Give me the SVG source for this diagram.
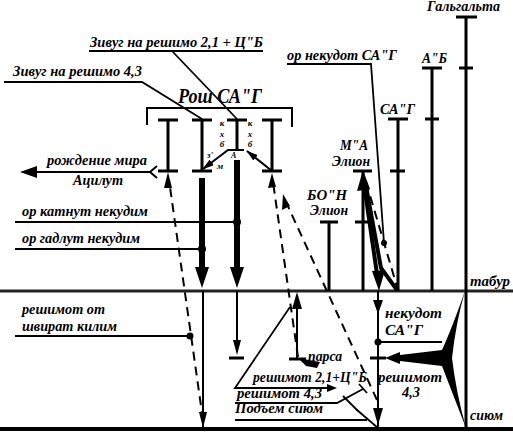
<svg xmlns="http://www.w3.org/2000/svg" width="513" height="434" viewBox="0 0 513 434">
<style>
text{font-family:"Liberation Serif","Times New Roman",serif;font-weight:bold;font-style:italic;fill:#000;font-size:14px}
.s{font-size:9px}
.ln{stroke:#000;stroke-width:2;fill:none}
.v{stroke:#000;stroke-width:3;fill:none}
.thk{stroke:#000;stroke-width:6;fill:none}
.th4{stroke:#000;stroke-width:4;fill:none}
.ds{stroke:#000;stroke-width:2;fill:none;stroke-dasharray:9,6}
.ld{stroke:#000;stroke-width:1.8;fill:none}
.f{fill:#000;stroke:none}
</style>
<defs>
<marker id="ahs" viewBox="0 0 12 7" refX="11" refY="3.5" markerWidth="12" markerHeight="7" markerUnits="userSpaceOnUse" orient="auto">
<path d="M0,0 L12,3.5 L0,7 z" fill="#000"/>
</marker>
</defs>

<g id="levels">
<line x1="0" y1="291" x2="513" y2="291" stroke="#222" stroke-width="3"/>
<line x1="0" y1="429" x2="513" y2="429" stroke="#000" stroke-width="4"/>
<text x="470" y="286" textLength="40" lengthAdjust="spacingAndGlyphs">табур</text>
<text x="470" y="420" textLength="33" lengthAdjust="spacingAndGlyphs">сиюм</text>
</g>

<g id="rosh">
<polyline class="ln" points="147,125 147,108 292,108 292,127"/>
<text x="178" y="103" style="font-size:20px" textLength="84" lengthAdjust="spacingAndGlyphs">Рош СА"Г</text>
<text class="s" x="222" y="126" text-anchor="middle">к</text>
<text class="s" x="222" y="136.5" text-anchor="middle">х</text>
<text class="s" x="222" y="147" text-anchor="middle">б</text>
<text class="s" x="250" y="126" text-anchor="middle">к</text>
<text class="s" x="250" y="136.5" text-anchor="middle">х</text>
<text class="s" x="250" y="147" text-anchor="middle">б</text>
<text class="s" x="207" y="158">з'</text>
<text class="s" x="217" y="169">м</text>
<text x="231" y="158" style="font-size:8px">А</text>
</g>

<g id="t1">
<path class="v" d="M158,120 H178 M168,120 V171 M158,171 H178"/>
</g>
<g id="t2">
<path class="v" d="M192,120 H212 M202,120 V171 M192,171 H212"/>
</g>
<g id="t3">
<path class="v" d="M227,120 H247 M237,120 V150"/>
</g>
<g id="t4">
<path class="v" d="M262,120 H282 M272,120 V171 M262,171 H282"/>
</g>

<g id="bon">
<path class="v" d="M320,222 H338 M329,222 V291"/>
<text x="307" y="200" textLength="40" lengthAdjust="spacingAndGlyphs">БО"Н</text>
<text x="310" y="215" textLength="38" lengthAdjust="spacingAndGlyphs">Элион</text>
</g>
<g id="ma">
<path class="v" d="M353,171 H372 M363,171 V291 M355,222 H370"/>
<text x="340" y="150" textLength="28" lengthAdjust="spacingAndGlyphs">М"А</text>
<text x="332" y="166" textLength="38" lengthAdjust="spacingAndGlyphs">Элион</text>
</g>
<g id="sag">
<path class="v" d="M388,119 H408 M398,119 V291 M390,171 H405"/>
<text x="380" y="114" textLength="35" lengthAdjust="spacingAndGlyphs">СА"Г</text>
</g>
<g id="ab">
<path class="v" d="M422,68 H442 M432,68 V291 M425,119 H439"/>
<text x="422" y="63" textLength="25" lengthAdjust="spacingAndGlyphs">А"Б</text>
</g>
<g id="galgalta">
<path class="v" d="M456,17 H477 M466,17 V429 M459,68 H473"/>
<text x="427" y="11" textLength="73" lengthAdjust="spacingAndGlyphs">Гальгальта</text>
</g>

<g id="labels">
<text x="90" y="47" textLength="173" lengthAdjust="spacingAndGlyphs">Зивуг на решимо 2,1 + Ц"Б</text>
<text x="13" y="76" textLength="129" lengthAdjust="spacingAndGlyphs">Зивуг на решимо 4,3</text>
<text x="287" y="60" textLength="110" lengthAdjust="spacingAndGlyphs">ор некудот СА"Г</text>
<text x="47" y="165" textLength="100" lengthAdjust="spacingAndGlyphs">рождение мира</text>
<text x="73" y="185" textLength="50" lengthAdjust="spacingAndGlyphs">Ацилут</text>
<text x="22" y="216" textLength="126" lengthAdjust="spacingAndGlyphs">ор катнут некудим</text>
<text x="22" y="243" textLength="118" lengthAdjust="spacingAndGlyphs">ор гадлут некудим</text>
<text x="22" y="314" textLength="83" lengthAdjust="spacingAndGlyphs">решимот от</text>
<text x="22" y="331" textLength="95" lengthAdjust="spacingAndGlyphs">швират килим</text>
<text x="385" y="318" textLength="57" lengthAdjust="spacingAndGlyphs">некудот</text>
<text x="385" y="335" textLength="38" lengthAdjust="spacingAndGlyphs">СА"Г</text>
<text x="378" y="382" textLength="64" lengthAdjust="spacingAndGlyphs">решимот</text>
<text x="402" y="397" textLength="18" lengthAdjust="spacingAndGlyphs">4,3</text>
<text x="308" y="361" textLength="34" lengthAdjust="spacingAndGlyphs">парса</text>
<text x="253" y="382" textLength="114" lengthAdjust="spacingAndGlyphs">решимот 2,1+Ц"Б</text>
<text x="237" y="398" textLength="85" lengthAdjust="spacingAndGlyphs">решимот 4,3</text>
<text x="235" y="413" textLength="88" lengthAdjust="spacingAndGlyphs">Подъем сиюм</text>
</g>

<g id="connectors">
<polyline class="ld" points="89,51 263,51"/>
<polyline class="ld" points="172,51 237,119"/>
<polyline class="ld" points="4,82 142,82 202,119"/>
<polyline class="ld" points="287,64 371,64 384,243"/>
<circle class="f" cx="384" cy="243" r="3"/>
<line class="ld" x1="15" y1="222" x2="237" y2="222"/>
<line class="ld" x1="15" y1="249" x2="202" y2="249"/>
<line class="ld" x1="15" y1="336" x2="190" y2="336"/>
<line class="ld" x1="378" y1="342" x2="442" y2="342"/>
<polyline class="ld" points="235,403 337,403 363,389"/>
<line class="ld" x1="343" y1="396" x2="358" y2="411"/>
<line class="ld" x1="359" y1="384" x2="367" y2="393"/>
<polyline class="ld" points="235,420 367,420"/>
<line class="ld" x1="357" y1="410" x2="378" y2="428"/>

<line class="ln" x1="150" y1="172" x2="34" y2="172"/>
<polygon class="f" points="20,172 37,166 37,178"/>
<polyline class="ln" points="157,166 150,172 157,178"/>

<line class="ln" x1="272" y1="171" x2="247" y2="151" marker-end="url(#ahs)"/>
<polyline class="ln" points="244,150 228,150 203,169" marker-end="url(#ahs)"/>

<line class="thk" x1="202" y1="178" x2="202" y2="270"/>
<polygon class="f" points="195,267 209,267 202,288"/>
<line class="thk" x1="237" y1="160" x2="237" y2="270"/>
<polygon class="f" points="230,267 244,267 237,288"/>
<circle class="f" cx="237" cy="222" r="4"/>
<circle class="f" cx="202" cy="249" r="4"/>

<line class="ln" x1="203" y1="291" x2="203" y2="429"/>
<line class="ln" x1="237" y1="291" x2="237" y2="343"/>
<polygon class="f" points="233,340 241,340 237,355"/>
<line class="v" x1="229" y1="358" x2="244" y2="358"/>

<line class="ln" x1="297" y1="359" x2="297" y2="305"/>
<polygon class="f" points="297,292 292,309 302,309"/>
<line class="v" x1="289" y1="359" x2="306" y2="359"/>
<polygon class="f" points="298,358 320,362 317,368 306,366"/>

<polyline class="ld" points="290,307 235,388 333,388"/>
<polygon class="f" points="337,388 327,384 327,392"/>

<line class="ds" x1="203" y1="420" x2="169" y2="180"/>
<polygon class="f" points="168,172 164,188 172,188"/>
<polygon class="f" points="203,428 199,412 207,412"/>
<circle class="f" cx="190" cy="336" r="3.5"/>
<line class="ds" x1="298" y1="357" x2="273" y2="182"/>
<polygon class="f" points="272,173 268,188 276,187"/>
<line class="ds" x1="377" y1="400" x2="286" y2="202"/>
<polygon class="f" points="283,194 282,210 290,206"/>
<line class="ds" x1="366" y1="182" x2="398" y2="290"/>

<polyline class="th4" points="397,290 381,268 366,186"/>
<polygon class="f" points="363,170 357,191 370,189"/>
<line class="th4" x1="364" y1="184" x2="377" y2="274"/>
<polygon class="f" points="379,291 372,271 385,270"/>

<line class="ln" x1="378" y1="291" x2="378" y2="429"/>
<polygon class="f" points="378,314 373,300 383,300"/>
<polygon class="f" points="378,425 373,408 383,408"/>
<circle class="f" cx="378" cy="342" r="3.5"/>
<line class="v" x1="370" y1="358" x2="386" y2="358"/>

<path class="f" d="M465,291 Q452,328 442,350 L400,355 L400,352 L385,358 L400,364 L400,361 L442,366 Q452,392 466,428 Q456,392 452,358 Q456,322 465,291 Z"/>
</g>
</svg>
